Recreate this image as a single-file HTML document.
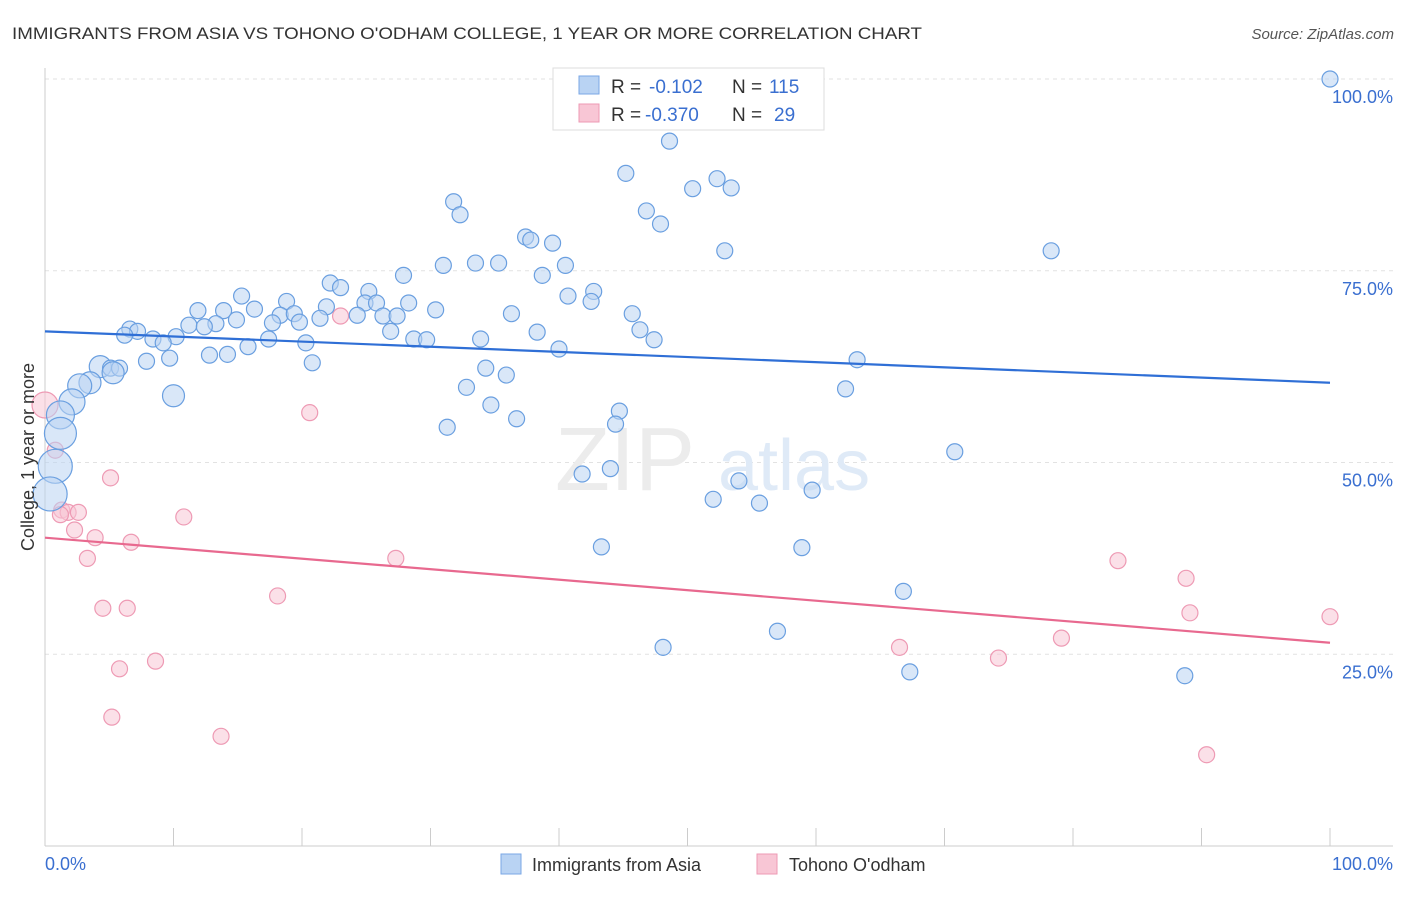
<!DOCTYPE html>
<html><head><meta charset="utf-8"><style>
body{margin:0;background:#fff;font-family:"Liberation Sans",sans-serif;}
svg text{font-family:"Liberation Sans",sans-serif;}
</style></head><body>
<svg id="chart" width="1406" height="892" viewBox="0 0 1406 892">
<text x="12" y="39" font-size="17" fill="#333" textLength="910" lengthAdjust="spacingAndGlyphs">IMMIGRANTS FROM ASIA VS TOHONO O'ODHAM COLLEGE, 1 YEAR OR MORE CORRELATION CHART</text>
<text x="1394" y="39" font-size="15" fill="#555" font-style="italic" text-anchor="end">Source: ZipAtlas.com</text>
<g id="grid"></g>
<g><text x="555" y="490" font-size="90" fill="#ececec" font-family="Liberation Serif">ZIP</text><text x="718" y="490" font-size="72" fill="#dfeaf7">atlas</text></g>
<g id="axes"></g>
<g id="marks"></g>
<text transform="translate(34,457) rotate(-90)" font-size="18" fill="#333" text-anchor="middle">College, 1 year or more</text>
<g>
<rect x="553" y="68" width="271" height="62" fill="#fff" stroke="#ddd"/>
<rect x="579" y="76" width="20" height="18" fill="#b9d3f3" stroke="#7aa7e6"/>
<rect x="579" y="104" width="20" height="18" fill="#f8c6d5" stroke="#ee9ab4"/>
<text x="611" y="93" font-size="19" fill="#333">R =</text><text x="649" y="93" font-size="19" fill="#3a6fd0">-0.102</text>
<text x="732" y="93" font-size="19" fill="#333">N =</text><text x="769" y="93" font-size="19" fill="#3a6fd0">115</text>
<text x="611" y="121" font-size="19" fill="#333">R =</text><text x="645" y="121" font-size="19" fill="#3a6fd0">-0.370</text>
<text x="732" y="121" font-size="19" fill="#333">N =</text><text x="774" y="121" font-size="19" fill="#3a6fd0">29</text>
</g>
<g>
<rect x="501" y="854" width="20" height="20" fill="#b9d3f3" stroke="#7aa7e6"/>
<text x="532" y="871" font-size="18" fill="#333">Immigrants from Asia</text>
<rect x="757" y="854" width="20" height="20" fill="#f8c6d5" stroke="#ee9ab4"/>
<text x="789" y="871" font-size="18" fill="#333">Tohono O'odham</text>
</g>
</svg>
<script>
const yTicks=[25,50,75,100];
const yTickLabels=["25.0%","50.0%","75.0%","100.0%"];
const xTickLabels=["0.0%","100.0%"];
const blueX=[100,48.6,45.2,50.4,52.3,53.4,31.8,32.3,46.8,47.9,37.4,37.8,39.5,52.9,78.3,31.0,33.5,35.3,40.5,38.7,27.9,22.2,23.0,25.2,42.7,40.7,42.5,15.3,18.8,24.9,25.8,28.3,21.9,11.9,13.9,16.3,18.3,19.4,21.4,24.3,26.3,27.4,30.4,36.3,45.7,14.9,17.7,19.8,11.2,13.3,12.4,6.6,7.2,6.2,10.2,8.4,9.2,17.4,26.9,28.7,29.7,33.9,38.3,46.3,47.4,20.3,15.8,12.8,14.2,9.7,7.9,20.8,40.0,63.2,34.3,35.9,4.3,5.1,5.8,5.3,3.5,2.7,32.8,62.3,10.0,2.1,34.7,44.7,1.2,36.7,44.4,31.3,1.2,70.8,0.8,44.0,41.8,54.0,59.7,0.4,52.0,55.6,43.3,58.9,66.8,57.0,48.1,67.3,88.7];
const blueY=[100,91.9,87.7,85.7,87.0,85.8,84.0,82.3,82.8,81.1,79.4,79.0,78.6,77.6,77.6,75.7,76.0,76.0,75.7,74.4,74.4,73.4,72.8,72.3,72.3,71.7,71.0,71.7,71.0,70.8,70.8,70.8,70.3,69.8,69.8,70.0,69.2,69.4,68.8,69.2,69.1,69.1,69.9,69.4,69.4,68.6,68.2,68.3,67.9,68.1,67.7,67.4,67.1,66.6,66.4,66.1,65.6,66.1,67.1,66.1,66.0,66.1,67.0,67.3,66.0,65.6,65.1,64.0,64.1,63.6,63.2,63.0,64.8,63.4,62.3,61.4,62.5,62.3,62.3,61.7,60.4,60.0,59.8,59.6,58.7,57.9,57.5,56.7,56.2,55.7,55.0,54.6,53.8,51.4,49.5,49.2,48.5,47.6,46.4,45.9,45.2,44.7,39.0,38.9,33.2,28.0,25.9,22.7,22.2];
const blueBig={76:11,79:11,80:11,81:12,84:11,85:13,88:14,92:16,94:17,99:17};
const pinkX=[0,0.8,5.1,1.3,1.8,2.6,1.2,2.3,10.8,3.9,6.7,3.3,27.3,20.6,23.0,18.1,4.5,6.4,8.6,5.8,5.2,13.7,83.5,88.8,89.1,100,79.1,66.5,74.2,90.4];
const pinkY=[57.5,51.6,48.0,43.8,43.5,43.5,43.2,41.2,42.9,40.2,39.6,37.5,37.5,56.5,69.1,32.6,31.0,31.0,24.1,23.1,16.8,14.3,37.2,34.9,30.4,29.9,27.1,25.9,24.5,11.9];
const blueTrend=[67.1,60.4];
const pinkTrend=[40.2,26.5];
const X0=45,X1=1330,Y0=846,Y100=79;
const sx=v=>X0+(X1-X0)*v/100;
const sy=v=>Y0-(Y0-Y100)*v/100;
const NS="http://www.w3.org/2000/svg";
function mk(tag,attrs,parent){const e=document.createElementNS(NS,tag);for(const k in attrs)e.setAttribute(k,attrs[k]);parent.appendChild(e);return e;}
const grid=document.getElementById('grid'),axes=document.getElementById('axes'),marks=document.getElementById('marks');
yTicks.forEach((t,i)=>{
 const l=mk('line',{x1:X0,x2:1393,y1:sy(t),y2:sy(t),stroke:'#e2e2e2','stroke-dasharray':'4,4'},grid);
 
 
 const tx=mk('text',{x:1393,y:sy(t)+24,'font-size':18,fill:'#3a6fd0','text-anchor':'end'},axes);
 tx.textContent=yTickLabels[i];
 
 
});
mk('line',{x1:X0,x2:X0,y1:68,y2:Y0,stroke:'#ccc'},axes);
mk('line',{x1:X0,x2:1393,y1:Y0,y2:Y0,stroke:'#ccc'},axes);
for(let i=0;i<=10;i++){const t=mk('line',{x1:sx(i*10),x2:sx(i*10),y1:828,y2:Y0,stroke:'#ccc'},axes);}
const xl0=mk('text',{x:45,y:870,'font-size':18,fill:'#3a6fd0'},axes);xl0.textContent=xTickLabels[0];


const xl1=mk('text',{x:1393,y:870,'font-size':18,fill:'#3a6fd0','text-anchor':'end'},axes);xl1.textContent=xTickLabels[1];


pinkX.forEach((x,i)=>{const c=mk('circle',{cx:sx(x),cy:sy(pinkY[i]),r:i==0?13:8,fill:'#f8c6d5','fill-opacity':0.55,stroke:'#ee9ab4','stroke-width':1.2},marks);
 
 });
blueX.forEach((x,i)=>{const c=mk('circle',{cx:sx(x),cy:sy(blueY[i]),r:blueBig[i]||8,fill:'#b9d3f3','fill-opacity':0.55,stroke:'#6a9fe0','stroke-width':1.2},marks);
 
 });
const bl=mk('line',{x1:sx(0),y1:sy(blueTrend[0]),x2:sx(100),y2:sy(blueTrend[1]),stroke:'#2f6fd6','stroke-width':2.2},marks);


const pl=mk('line',{x1:sx(0),y1:sy(pinkTrend[0]),x2:sx(100),y2:sy(pinkTrend[1]),stroke:'#e8698f','stroke-width':2.2},marks);


</script>
</body></html>
